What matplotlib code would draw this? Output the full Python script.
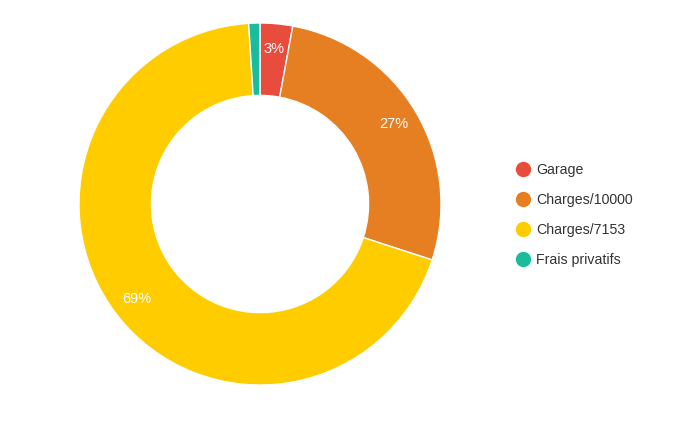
import matplotlib

matplotlib.use("Agg")

import matplotlib.pyplot as plt
from matplotlib.lines import Line2D

plt.rcParams["font.family"] = ["Liberation Sans", "DejaVu Sans"]

labels = ["Garage", "Charges/10000", "Charges/7153", "Frais privatifs"]
values = [2.9, 27.1, 69.0, 1.0]
colors = ["#e74c3c", "#e67e22", "#ffcc00", "#1abc9c"]


def pct_label(pct: float) -> str:
    return f"{pct:.0f}%" if pct >= 2 else ""


fig = plt.figure(figsize=(6.94, 4.36), dpi=100)
ax = fig.add_axes((79 / 694, 51 / 436, 362 / 694, 362 / 436))

wedges, _, autotexts = ax.pie(
    values,
    colors=colors,
    startangle=90,
    counterclock=False,
    radius=1.0,
    autopct=pct_label,
    pctdistance=0.86,
    wedgeprops={"width": 0.4, "edgecolor": "white", "linewidth": 1},
    textprops={"color": "white", "fontsize": 10.5},
)
ax.set_xlim(-1, 1)
ax.set_ylim(-1, 1)
ax.set_aspect("equal")

handles = [
    Line2D([0], [0], marker="o", linestyle="none", markersize=10,
           markerfacecolor=c, markeredgecolor=c)
    for c in colors
]
fig.legend(
    handles,
    labels,
    loc="center left",
    bbox_to_anchor=(502 / 694, 1 - 215 / 436),
    frameon=False,
    fontsize=10.2,
    labelcolor="#333333",
    handletextpad=0.32,
    handlelength=1.2,
    labelspacing=1.13,
)

fig.savefig("out.png", dpi=100)
